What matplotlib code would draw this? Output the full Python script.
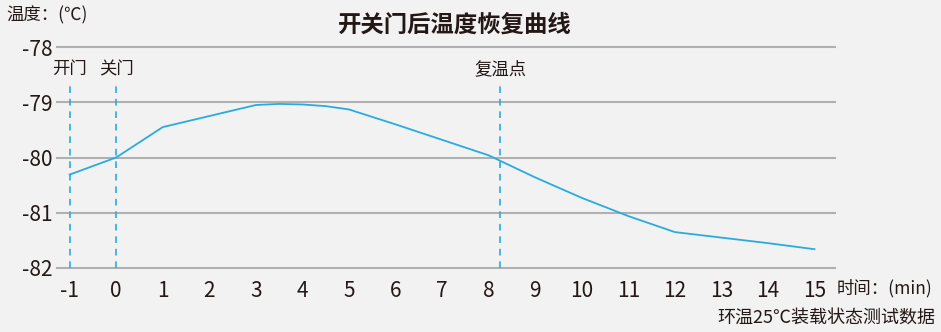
import matplotlib
matplotlib.use("Agg")
import matplotlib.pyplot as plt

plt.rcParams['font.family'] = ['Noto Sans CJK SC', 'DejaVu Sans']

# data
minutes = [-1, 0, 1, 2, 3, 3.5, 4, 4.5, 5, 6, 7, 8, 9, 10, 11, 12, 13, 14, 15]
temps = [-80.31, -80.0, -79.45, -79.25, -79.05, -79.03, -79.04, -79.07, -79.13,
         -79.4, -79.68, -79.96, -80.36, -80.73, -81.06, -81.35, -81.45, -81.55, -81.66]
x_ticks = list(range(-1, 16))
y_ticks = [-82, -81, -80, -79, -78]
events = [(-1, '开门'), (0, '关门'), (8.25, '复温点')]

bg = '#f2f2f2'
blue = '#29abe2'
txt = '#231815'

fig = plt.figure(figsize=(9.41, 3.32), dpi=100, facecolor=bg)
ax = fig.add_axes([0.0606, 0.1928, 0.8272, 0.6656], facecolor=bg)

for v in y_ticks:
    ax.axhline(v, color='#b0b0b0', lw=1.5, zorder=1, clip_on=False)

for xv, label in events:
    ax.plot([xv, xv], [-82, -78.63], color=blue, lw=1.2, ls=(0, (4, 3.5)), zorder=2, clip_on=False)
    ax.text(xv, -78.4, label, ha='center', va='center', fontsize=12.5, color=txt)

ax.plot(minutes, temps, color=blue, lw=1.3, zorder=3)

ax.set_xlim(-1.27, 15.45)
ax.set_ylim(-82, -78)
ax.set_xticks(x_ticks)
ax.set_xticklabels([str(t) for t in x_ticks], fontsize=15, color=txt)
ax.set_yticks(y_ticks)
ax.set_yticklabels([str(t) for t in y_ticks], fontsize=15, color=txt)
ax.tick_params(axis='x', length=0, pad=9)
ax.tick_params(axis='y', length=0, pad=3)
for s in ax.spines.values():
    s.set_visible(False)

fig.text(0.483, 0.925, '开关门后温度恢复曲线', ha='center', va='center',
         fontsize=16.8, fontweight='bold', color=txt)
fig.text(0.007, 0.955, '温度：(℃)', ha='left', va='center', fontsize=12.5, color=txt)
fig.text(0.889, 0.132, '时间：(min)', ha='left', va='center', fontsize=12.5, color=txt)
fig.text(0.994, 0.042, '环温25℃装载状态测试数据', ha='right', va='center', fontsize=13, color=txt)

fig.savefig('out.png', dpi=100, facecolor=bg)
